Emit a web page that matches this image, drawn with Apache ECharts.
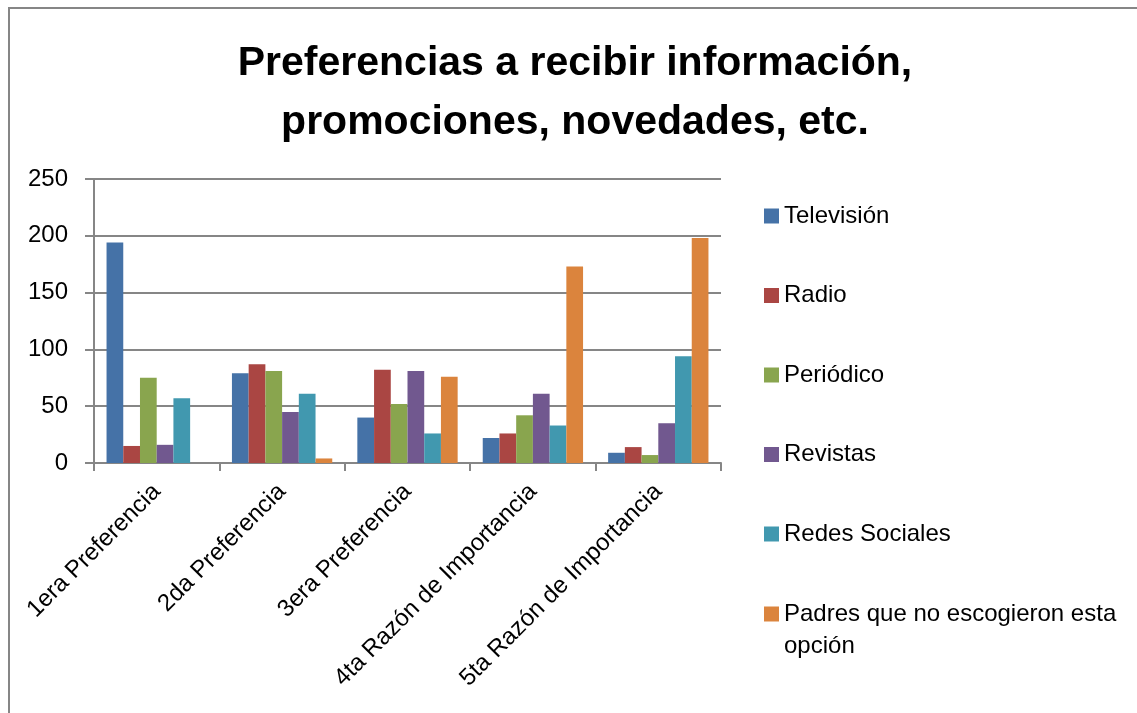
<!DOCTYPE html>
<html>
<head>
<meta charset="utf-8">
<script src="https://cdn.jsdelivr.net/npm/echarts@6/dist/echarts.min.js"></script>
<style>
  html, body { margin: 0; padding: 0; background: #ffffff; }
  #chart { width: 1137px; height: 713px; }
</style>
</head>
<body>
<div id="chart"></div>
<script>
// Categories (rankings) and counts per channel
const categories = ['1era Preferencia', '2da Preferencia', '3era Preferencia', '4ta Razón de Importancia', '5ta Razón de Importancia'];
const seriesNames = ['Televisión', 'Radio', 'Periódico', 'Revistas', 'Redes Sociales', 'Padres que no escogieron esta opción'];
const television = [194, 79, 40, 22, 9];
const radio = [15, 87, 82, 26, 14];
const periodico = [75, 81, 52, 42, 7];
const revistas = [16, 45, 81, 61, 35];
const redesSociales = [57, 61, 26, 33, 94];
const padresNoEscogieron = [0, 4, 76, 173, 198];
const yTicks = [0, 50, 100, 150, 200, 250];
const colors = ['#4572A7', '#AA4643', '#89A54E', '#71588F', '#4198AF', '#DB843D'];

const valuesBySeries = [television, radio, periodico, revistas, redesSociales, padresNoEscogieron];
const FONT = '"Liberation Sans", Arial, sans-serif';
const GREY = '#868686';

const chart = echarts.init(document.getElementById('chart'), null, { renderer: 'canvas' });

const legendText = { fontFamily: FONT, fontSize: 24, color: '#000', lineHeight: 32 };

chart.setOption({
  animation: false,
  backgroundColor: '#ffffff',
  color: colors,
  title: {
    text: 'Preferencias a recibir información,\npromociones, novedades, etc.',
    left: 575,
    top: 34,
    padding: 0,
    textAlign: 'center',
    textStyle: { fontFamily: FONT, fontSize: 41, fontWeight: 'bold', color: '#000', lineHeight: 59 }
  },
  graphic: [{
    type: 'rect',
    silent: true,
    shape: { x: 9, y: 8, width: 1300, height: 900 },
    style: { fill: 'none', stroke: GREY, lineWidth: 2 }
  }],
  legend: [{
    orient: 'vertical',
    left: 764,
    top: 200,
    padding: 0,
    itemWidth: 15,
    itemHeight: 15,
    itemGap: 47.5,
    icon: 'rect',
    selectedMode: false,
    data: seriesNames.slice(0, 5),
    textStyle: legendText
  }, {
    // wrapped entry: an empty leading line keeps the first text line level with the swatch
    orient: 'vertical',
    left: 764,
    top: 566,
    padding: 0,
    itemWidth: 15,
    itemHeight: 15,
    icon: 'rect',
    selectedMode: false,
    data: seriesNames.slice(5),
    formatter: name => ' \n' + name,
    textStyle: Object.assign({}, legendText, { width: 345, overflow: 'break' })
  }],
  grid: { left: 94, right: 416, top: 179, bottom: 250, containLabel: false },
  xAxis: {
    type: 'category',
    data: categories,
    axisLine: { show: true, lineStyle: { color: GREY, width: 2 } },
    axisTick: { show: true, length: 8, alignWithLabel: false, lineStyle: { color: GREY, width: 2 } },
    axisLabel: { rotate: 45, margin: 25, interval: 0, fontFamily: FONT, fontSize: 24, color: '#000' },
    splitLine: { show: false }
  },
  yAxis: {
    type: 'value',
    min: yTicks[0],
    max: yTicks[yTicks.length - 1],
    interval: yTicks[1] - yTicks[0],
    axisLine: { show: true, lineStyle: { color: GREY, width: 2 } },
    axisTick: { show: true, length: 9, lineStyle: { color: GREY, width: 2 } },
    axisLabel: { margin: 26, fontFamily: FONT, fontSize: 24, color: '#000' },
    splitLine: { show: true, lineStyle: { color: GREY, width: 2 } }
  },
  series: seriesNames.map((name, i) => ({
    name: name,
    type: 'bar',
    data: valuesBySeries[i],
    barGap: '0%',
    barCategoryGap: '20%',
    itemStyle: { color: colors[i] }
  }))
});
</script>
</body>
</html>
